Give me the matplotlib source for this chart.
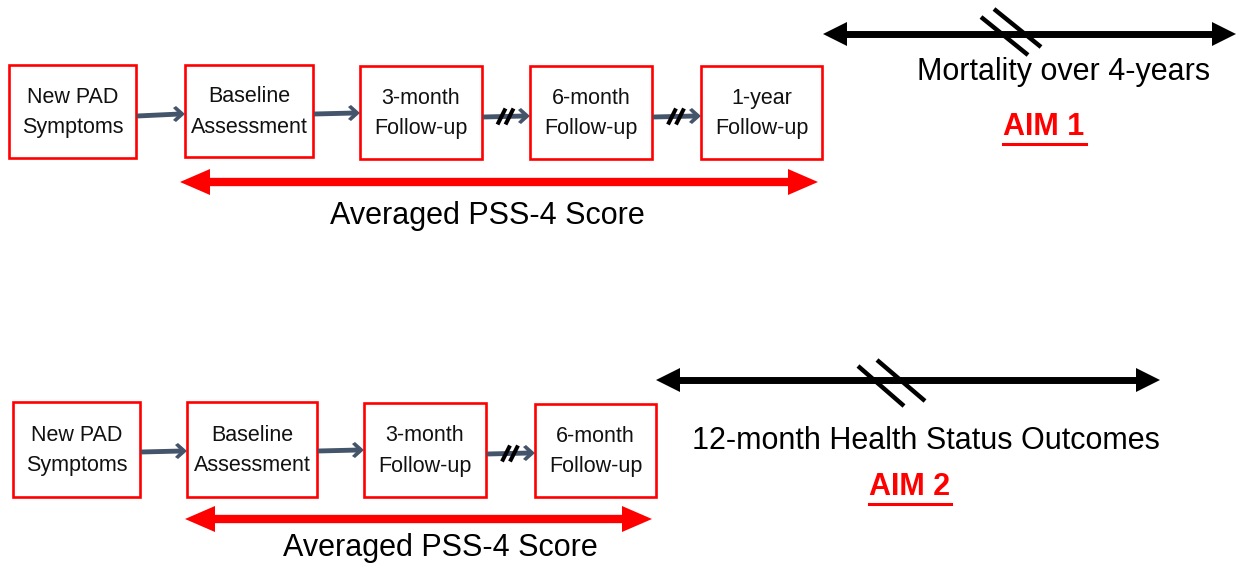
import matplotlib
matplotlib.use("Agg")
import matplotlib.pyplot as plt
from matplotlib.patches import Rectangle, Polygon

plt.rcParams['font.family'] = ['Liberation Sans', 'DejaVu Sans']

# panel 1 (Aim 1)
labels_1 = ["New PAD\nSymptoms", "Baseline\nAssessment", "3-month\nFollow-up",
            "6-month\nFollow-up", "1-year\nFollow-up"]
breaks_1 = [False, False, True, True]          # "//" on the connector after box i
outcome_1 = "Mortality over 4-years"
aim_1 = "AIM 1"

# panel 2 (Aim 2)
labels_2 = ["New PAD\nSymptoms", "Baseline\nAssessment", "3-month\nFollow-up",
            "6-month\nFollow-up"]
breaks_2 = [False, False, True]
outcome_2 = "12-month Health Status Outcomes"
aim_2 = "AIM 2"

score_label = "Averaged PSS-4 Score"

RED = "#ff0000"
GRAY = "#44546a"

fig = plt.figure(figsize=(12.43, 5.72), dpi=100)
ax = fig.add_axes([0, 0, 1, 1])
ax.set_xlim(0, 1243)
ax.set_ylim(572, 0)
ax.axis("off")


def double_arrow(x0, x1, y, color, lw, hl, hh):
    ax.plot([x0 + hl * 0.8, x1 - hl * 0.8], [y, y], color=color, lw=lw,
            solid_capstyle="butt")
    ax.add_patch(Polygon([[x0, y], [x0 + hl, y - hh / 2], [x0 + hl, y + hh / 2]],
                         closed=True, color=color, lw=0))
    ax.add_patch(Polygon([[x1, y], [x1 - hl, y - hh / 2], [x1 - hl, y + hh / 2]],
                         closed=True, color=color, lw=0))


def connector(x0, y0, x1, y1, brk):
    ax.plot([x0, x1 - 5], [y0, y1], color=GRAY, lw=3.5, solid_capstyle="butt")
    ax.add_patch(Polygon([[x1, y1], [x1 - 9, y1 - 8], [x1 - 12, y1 - 6],
                          [x1 - 6, y1], [x1 - 12, y1 + 6], [x1 - 9, y1 + 8]],
                         closed=True, color=GRAY, lw=0))
    if brk:
        xm = (x0 + x1) / 2 - 1
        ym = (y0 + y1) / 2
        for dx in (-4, 4):
            ax.plot([xm + dx - 4, xm + dx + 4], [ym + 8, ym - 8],
                    color="black", lw=2.9, solid_capstyle="butt")


def break_marks(pts):
    for (xa, ya, xb, yb) in pts:
        ax.plot([xa, xb], [ya, yb], color="black", lw=3.2, solid_capstyle="butt")


def panel(labels, breaks, boxes, conns):
    for lab, (x0, y0, x1, y1) in zip(labels, boxes):
        ax.add_patch(Rectangle((x0, y0), x1 - x0, y1 - y0, fill=False,
                               edgecolor=RED, lw=1.9))
        ax.text((x0 + x1) / 2, (y0 + y1) / 2 + 1, lab, ha="center", va="center",
                fontsize=15.5, linespacing=1.62, color="#111111")
    for (c, brk) in zip(conns, breaks):
        connector(*c, brk)


# ---- panel 1 ----
boxes_1 = [(9, 65, 136, 158), (185, 65, 313, 157), (360, 66, 482, 159),
           (530, 66, 652, 159), (701, 66, 822, 159)]
conns_1 = [(137, 116, 185, 114), (314, 114, 360, 113), (483, 117, 530, 116),
           (653, 117, 701, 116)]
panel(labels_1, breaks_1, boxes_1, conns_1)

double_arrow(180, 818, 182, RED, 6.0, 30, 26)
ax.text(487, 216, score_label, ha="center", va="center", fontsize=22)

double_arrow(823, 1236, 34, "black", 5.0, 24, 24)
break_marks([(981, 17, 1028, 55), (994, 9, 1041, 47)])
ax.text(1064, 72, outcome_1, ha="center", va="center", fontsize=22)
ax.text(1044, 127, aim_1, ha="center", va="center", fontsize=22,
        fontweight="bold", color=RED)
ax.plot([1003, 1086], [144, 144], color=RED, lw=2.2)

# ---- panel 2 ----
boxes_2 = [(13, 402, 140, 497), (187, 402, 317, 497), (364, 403, 486, 497),
           (535, 404, 656, 497)]
conns_2 = [(141, 452, 187, 451), (318, 451, 364, 450), (487, 454, 535, 453)]
panel(labels_2, breaks_2, boxes_2, conns_2)

double_arrow(185, 652, 519, RED, 6.0, 30, 26)
ax.text(440, 548, score_label, ha="center", va="center", fontsize=22)

double_arrow(656, 1160, 380, "black", 5.0, 24, 24)
break_marks([(858, 366, 904, 406), (877, 360, 925, 401)])
ax.text(926, 441, outcome_2, ha="center", va="center", fontsize=22)
ax.text(910, 487, aim_2, ha="center", va="center", fontsize=22,
        fontweight="bold", color=RED)
ax.plot([869, 951], [504, 504], color=RED, lw=2.2)

fig.savefig("out.png", dpi=100, facecolor="white")
